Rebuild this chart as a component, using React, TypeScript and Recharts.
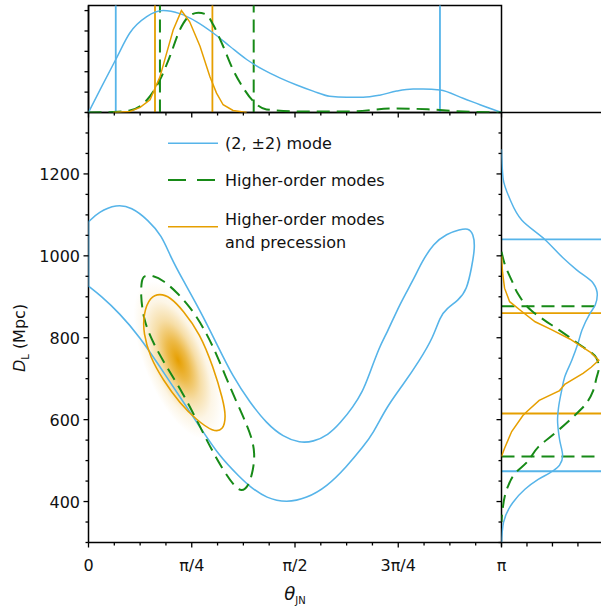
import React from 'react';
import {
  ComposedChart,
  Scatter,
  XAxis,
  YAxis,
  ReferenceLine,
  ReferenceArea,
  Legend,
} from 'recharts';

const BLUE = '#56B4E9';
const GREEN = '#178a17';
const ORANGE = '#E69F00';
const FONT = '"DejaVu Sans", Arial, sans-serif';
const DASH = '13 7';

// theta_JN is kept in units of pi
const xTicks = [0, 0.0625, 0.125, 0.1875, 0.25, 0.3125, 0.375, 0.4375, 0.5, 0.5625, 0.625, 0.6875, 0.75, 0.8125, 0.875, 0.9375, 1];
const xMajor = [0, 0.25, 0.5, 0.75, 1];
const xLabels = ['0', 'π/4', 'π/2', '3π/4', 'π'];

const dTicks = [300, 350, 400, 450, 500, 550, 600, 650, 700, 750, 800, 850, 900, 950, 1000, 1050, 1100, 1150, 1200, 1250, 1300, 1350];
const dMajor = [400, 600, 800, 1000, 1200];
const dLabels = ['400', '600', '800', '1000', '1200'];

const topTicks = [0, 0.2, 0.4, 0.6, 0.8, 1];
const sideTicks = [0, 0.25, 0.5, 0.75, 1];

// top marginal: [theta/pi, density]
const topBlue = [[0, 0], [0.03, 0.24], [0.066, 0.52], [0.1, 0.78], [0.141, 0.94], [0.181, 1.0], [0.221, 0.97], [0.262, 0.89], [0.302, 0.78], [0.342, 0.65], [0.383, 0.52], [0.423, 0.42], [0.463, 0.34], [0.504, 0.27], [0.544, 0.21], [0.584, 0.16], [0.625, 0.15], [0.665, 0.15], [0.705, 0.17], [0.746, 0.21], [0.786, 0.23], [0.81, 0.23], [0.851, 0.22], [0.907, 0.14], [0.948, 0.076], [1, 0]];
const topGreen = [[0, 0], [0.06, 0.005], [0.1, 0.02], [0.141, 0.12], [0.173, 0.32], [0.197, 0.55], [0.221, 0.81], [0.245, 0.95], [0.266, 0.98], [0.286, 0.96], [0.302, 0.86], [0.326, 0.65], [0.35, 0.42], [0.375, 0.24], [0.399, 0.11], [0.431, 0.03], [0.504, 0.01], [0.625, 0.01], [0.746, 0.04], [0.826, 0.03], [0.907, 0.01], [1, 0]];
const topOrange = [[0.06, 0], [0.1, 0.01], [0.125, 0.05], [0.149, 0.125], [0.173, 0.35], [0.189, 0.58], [0.205, 0.81], [0.225, 1.0], [0.245, 0.89], [0.27, 0.65], [0.294, 0.35], [0.31, 0.19], [0.326, 0.076], [0.35, 0.02], [0.383, 0]];
const topBlueCI = [0.066, 0.851];
const topGreenCI = [0.173, 0.4];
const topOrangeCI = [0.161, 0.3];

// right marginal: [D_L, density]
const rightBlue = [[1260, 0], [1190, 0.015], [1140, 0.08], [1087, 0.2], [1040, 0.425], [996, 0.6], [965, 0.74], [933, 0.9], [905, 0.94], [880, 0.92], [860, 0.87], [819, 0.79], [786, 0.75], [745, 0.69], [704, 0.62], [671, 0.59], [630, 0.56], [599, 0.55], [551, 0.57], [511, 0.6], [489, 0.57], [474, 0.5], [454, 0.36], [430, 0.23], [397, 0.11], [349, 0.02], [300, 0]];
const rightGreen = [[1010, 0], [981, 0.03], [940, 0.1], [908, 0.16], [867, 0.29], [843, 0.42], [823, 0.54], [786, 0.75], [751, 0.93], [727, 0.955], [700, 0.93], [671, 0.9], [639, 0.83], [606, 0.7], [566, 0.52], [533, 0.36], [496, 0.25], [468, 0.13], [435, 0.06], [380, 0.01], [350, 0]];
const rightOrange = [[1000, 0], [960, 0.01], [921, 0.03], [888, 0.08], [864, 0.2], [839, 0.33], [820, 0.49], [797, 0.67], [765, 0.87], [745, 0.955], [728, 0.88], [713, 0.8], [686, 0.62], [671, 0.57], [647, 0.37], [620, 0.25], [610, 0.21], [571, 0.1], [530, 0.03], [510, 0]];
const rightBlueCI = [1040, 474];
const rightGreenCI = [877, 510];
const rightOrangeCI = [860, 615];

// joint 90% contours: [theta/pi, D_L] (closed loops; corners on the theta=0 edge repeated to keep them sharp)
const blueContour = [[0, 1083], [0, 1083], [0, 1083], [0.024, 1107], [0.068, 1126], [0.104, 1119], [0.145, 1087], [0.177, 1050], [0.199, 997], [0.227, 944], [0.27, 867], [0.31, 786], [0.35, 704], [0.391, 642], [0.431, 591], [0.471, 558], [0.512, 543], [0.544, 546], [0.58, 562], [0.609, 591], [0.641, 631], [0.665, 672], [0.676, 700], [0.706, 782], [0.722, 810], [0.754, 883], [0.786, 940], [0.807, 985], [0.835, 1030], [0.867, 1054], [0.899, 1064], [0.919, 1068], [0.932, 1054], [0.936, 1021], [0.928, 973], [0.916, 916], [0.895, 891], [0.867, 871], [0.851, 851], [0.835, 802], [0.802, 745], [0.758, 680], [0.722, 631], [0.689, 566], [0.665, 534], [0.625, 485], [0.577, 436], [0.528, 408], [0.48, 397], [0.431, 408], [0.391, 436], [0.367, 459], [0.318, 509], [0.27, 582], [0.221, 656], [0.173, 729], [0.124, 802], [0.076, 859], [0.028, 904], [0, 926], [0, 926], [0, 926], [0, 1004]];
const greenContour = [[0.133, 952], [0.157, 952], [0.181, 940], [0.213, 912], [0.246, 875], [0.278, 826], [0.31, 761], [0.342, 680], [0.375, 607], [0.395, 558], [0.403, 518], [0.399, 477], [0.387, 436], [0.371, 424], [0.354, 436], [0.326, 477], [0.294, 534], [0.262, 599], [0.229, 664], [0.189, 729], [0.157, 786], [0.133, 843], [0.126, 908], [0.129, 940]];
const orangeContour = [[0.173, 908], [0.149, 900], [0.133, 859], [0.133, 810], [0.149, 753], [0.181, 696], [0.221, 640], [0.262, 599], [0.302, 570], [0.326, 574], [0.333, 607], [0.326, 648], [0.302, 729], [0.27, 810], [0.229, 867], [0.197, 900]];
const orangePeak = [[0.217, 745]];

const toTD = (pts: number[][]) => pts.map(([t, d]) => ({ t, d }));
const toTP = (pts: number[][]) => pts.map(([t, p]) => ({ t, p }));
const toDP = (pts: number[][]) => pts.map(([d, p]) => ({ d, p }));

// frame of the joint panel, in page pixels
const L = 88.5;
const R = 501.5;
const T = 112.5;
const B = 542.5;
const TOP = 5.5;
const SIDE_W = 620;
const SIDE_R = 608.5;

const NoDot = () => <g />;

const AxisTick = (props: any) => {
  const { x, y, payload, side, majors, labels, minor = 3, major = 5 } = props;
  const i = majors.findIndex((m: number) => Math.abs(m - payload.value) < 1e-9);
  const len = i >= 0 ? major : minor;
  if (side === 'bottom') {
    return (
      <g>
        <line x1={x} x2={x} y1={y} y2={y + len} stroke="#000" strokeWidth={1.3} />
        {labels && i >= 0 && (
          <text x={x} y={y + 28} textAnchor="middle" fontFamily={FONT} fontSize={16} fill="#111">
            {labels[i]}
          </text>
        )}
      </g>
    );
  }
  return (
    <g>
      <line x1={x - len} x2={x} y1={y} y2={y} stroke="#000" strokeWidth={1.3} />
      {labels && i >= 0 && (
        <text x={x - 8.5} y={y + 6} textAnchor="end" fontFamily={FONT} fontSize={16} fill="#111">
          {labels[i]}
        </text>
      )}
    </g>
  );
};

const Blob = (props: any) => {
  const { cx, cy } = props;
  return (
    <g>
      <defs>
        <radialGradient id="peakGlow" cx="50%" cy="50%" r="50%">
          <stop offset="0%" stopColor={ORANGE} stopOpacity={1} />
          <stop offset="25%" stopColor={ORANGE} stopOpacity={0.72} />
          <stop offset="50%" stopColor={ORANGE} stopOpacity={0.35} />
          <stop offset="75%" stopColor={ORANGE} stopOpacity={0.1} />
          <stop offset="100%" stopColor={ORANGE} stopOpacity={0} />
        </radialGradient>
      </defs>
      <ellipse cx={cx} cy={cy} rx={34} ry={84} fill="url(#peakGlow)" transform={`rotate(-22 ${cx} ${cy})`} />
    </g>
  );
};

const XTitle = () => (
  <text x={(L + R) / 2} y={599.5} textAnchor="middle" fontFamily={FONT} fill="#111">
    <tspan fontStyle="italic" fontSize={18}>θ</tspan>
    <tspan fontSize={10} dy={4}>JN</tspan>
  </text>
);

const YTitle = () => (
  <text transform="translate(25, 338) rotate(-90)" textAnchor="middle" fontFamily={FONT} fontSize={16} fill="#111">
    <tspan fontStyle="italic">D</tspan>
    <tspan fontSize={10} dy={4}>L</tspan>
    <tspan dy={-4}>{'\u00A0(Mpc)'}</tspan>
  </text>
);

const LegendBox = () => (
  <svg width={240} height={130} style={{ overflow: 'visible' }}>
    <g fontFamily={FONT} fontSize={16} fill="#111">
      <line x1={8} x2={58} y1={15.3} y2={15.3} stroke={BLUE} strokeWidth={1.5} />
      <text x={65} y={20.5}>(2, ±2) mode</text>
      <line x1={8} x2={58} y1={52} y2={52} stroke={GREEN} strokeWidth={2} strokeDasharray="18 11" />
      <text x={65} y={57.5}>Higher-order modes</text>
      <line x1={8} x2={58} y1={98.7} y2={98.7} stroke={ORANGE} strokeWidth={1.5} />
      <text x={65} y={97}>Higher-order modes</text>
      <text x={65} y={120.3}>and precession</text>
    </g>
  </svg>
);

const layer: React.CSSProperties = { position: 'absolute', left: 0, top: 0 };

export default function App() {
  return (
    <div style={{ position: 'absolute', left: 0, top: 0, width: 601, height: 608, overflow: 'hidden', background: '#fff' }}>
      {/* joint panel */}
      <div style={layer}>
        <ComposedChart width={601} height={608} margin={{ top: T, right: 601 - R, bottom: 0, left: 0 }}>
          <XAxis
            dataKey="t"
            type="number"
            domain={[0, 1]}
            allowDataOverflow
            ticks={xTicks}
            interval={0}
            tickSize={0}
            tickMargin={0}
            tickLine={false}
            axisLine={{ stroke: '#000', strokeWidth: 1.5 }}
            height={608 - B}
            tick={(p: any) => <AxisTick {...p} side="bottom" majors={xMajor} labels={xLabels} />}
            label={<XTitle />}
          />
          <YAxis
            dataKey="d"
            type="number"
            domain={[300, 1350]}
            allowDataOverflow
            ticks={dTicks}
            interval={0}
            tickSize={0}
            tickMargin={0}
            tickLine={false}
            axisLine={{ stroke: '#000', strokeWidth: 1.5 }}
            width={L}
            tick={(p: any) => <AxisTick {...p} side="left" majors={dMajor} labels={dLabels} />}
            label={<YTitle />}
          />
          <Scatter data={toTD(orangePeak)} shape={Blob} isAnimationActive={false} legendType="none" />
          <Scatter data={toTD(blueContour)} fill={BLUE} line={{ stroke: BLUE, strokeWidth: 1.6 }} lineType="joint" lineJointType="basisClosed" shape={NoDot} isAnimationActive={false} />
          <Scatter data={toTD(greenContour)} fill={GREEN} line={{ stroke: GREEN, strokeWidth: 2, strokeDasharray: DASH }} lineType="joint" lineJointType="basisClosed" shape={NoDot} isAnimationActive={false} />
          <Scatter data={toTD(orangeContour)} fill={ORANGE} line={{ stroke: ORANGE, strokeWidth: 1.6 }} lineType="joint" lineJointType="basisClosed" shape={NoDot} isAnimationActive={false} />
          <Legend
            layout="horizontal"
            verticalAlign="middle"
            align="center"
            width={240}
            height={130}
            wrapperStyle={{ left: 160, top: 128, width: 240, height: 130 }}
            content={() => <LegendBox />}
          />
        </ComposedChart>
      </div>

      {/* top marginal: theta_JN */}
      <div style={layer}>
        <ComposedChart width={601} height={130} margin={{ top: TOP, right: 601 - R, bottom: 0, left: 0 }}>
          <XAxis
            dataKey="t"
            type="number"
            domain={[0, 1]}
            allowDataOverflow
            ticks={xTicks}
            interval={0}
            tickSize={0}
            tickMargin={0}
            tickLine={false}
            axisLine={{ stroke: '#000', strokeWidth: 1.5 }}
            height={130 - T}
            tick={(p: any) => <AxisTick {...p} side="bottom" majors={xMajor} labels={null} />}
          />
          <YAxis
            dataKey="p"
            type="number"
            domain={[0, 1.05]}
            allowDataOverflow
            ticks={topTicks}
            interval={0}
            tickSize={0}
            tickMargin={0}
            tickLine={false}
            axisLine={{ stroke: '#000', strokeWidth: 1.5 }}
            width={L}
            tick={(p: any) => <AxisTick {...p} side="left" majors={[]} labels={null} minor={4} />}
          />
          <ReferenceArea x1={0} x2={1} y1={0} y2={1.05} fill="none" stroke="#000" strokeWidth={1.5} ifOverflow="visible" />
          <Scatter data={toTP(topBlue)} fill={BLUE} line={{ stroke: BLUE, strokeWidth: 1.5 }} lineType="joint" lineJointType="monotoneX" shape={NoDot} isAnimationActive={false} />
          <Scatter data={toTP(topGreen)} fill={GREEN} line={{ stroke: GREEN, strokeWidth: 2, strokeDasharray: DASH }} lineType="joint" lineJointType="monotoneX" shape={NoDot} isAnimationActive={false} />
          <Scatter data={toTP(topOrange)} fill={ORANGE} line={{ stroke: ORANGE, strokeWidth: 1.5 }} lineType="joint" shape={NoDot} isAnimationActive={false} />
          {topBlueCI.map((v) => (
            <ReferenceLine key={`tb${v}`} x={v} stroke={BLUE} strokeWidth={1.8} />
          ))}
          {topOrangeCI.map((v) => (
            <ReferenceLine key={`to${v}`} x={v} stroke={ORANGE} strokeWidth={1.8} />
          ))}
          {topGreenCI.map((v) => (
            <ReferenceLine key={`tg${v}`} x={v} stroke={GREEN} strokeWidth={2} strokeDasharray={DASH} />
          ))}
        </ComposedChart>
      </div>

      {/* right marginal: D_L */}
      <div style={layer}>
        <ComposedChart width={SIDE_W} height={608} margin={{ top: T, right: SIDE_W - SIDE_R, bottom: 0, left: 0 }}>
          <XAxis
            dataKey="p"
            type="number"
            domain={[0, 1.05]}
            allowDataOverflow
            ticks={sideTicks}
            interval={0}
            tickSize={0}
            tickMargin={0}
            tickLine={false}
            axisLine={{ stroke: '#000', strokeWidth: 1.5 }}
            height={608 - B}
            tick={(p: any) => <AxisTick {...p} side="bottom" majors={[]} labels={null} minor={4} />}
          />
          <YAxis
            dataKey="d"
            type="number"
            domain={[300, 1350]}
            allowDataOverflow
            ticks={dTicks}
            interval={0}
            tickSize={0}
            tickMargin={0}
            tickLine={false}
            axisLine={{ stroke: '#000', strokeWidth: 1.5 }}
            width={R}
            tick={(p: any) => <AxisTick {...p} side="left" majors={dMajor} labels={null} />}
          />
          <ReferenceLine y={1350} stroke="#000" strokeWidth={1.5} />
          <Scatter data={toDP(rightBlue)} fill={BLUE} line={{ stroke: BLUE, strokeWidth: 1.5 }} lineType="joint" lineJointType="monotoneY" shape={NoDot} isAnimationActive={false} />
          <Scatter data={toDP(rightGreen)} fill={GREEN} line={{ stroke: GREEN, strokeWidth: 2, strokeDasharray: DASH }} lineType="joint" lineJointType="monotoneY" shape={NoDot} isAnimationActive={false} />
          <Scatter data={toDP(rightOrange)} fill={ORANGE} line={{ stroke: ORANGE, strokeWidth: 1.5 }} lineType="joint" shape={NoDot} isAnimationActive={false} />
          {rightBlueCI.map((v) => (
            <ReferenceLine key={`rb${v}`} y={v} stroke={BLUE} strokeWidth={1.8} />
          ))}
          {rightOrangeCI.map((v) => (
            <ReferenceLine key={`ro${v}`} y={v} stroke={ORANGE} strokeWidth={1.8} />
          ))}
          {rightGreenCI.map((v) => (
            <ReferenceLine key={`rg${v}`} y={v} stroke={GREEN} strokeWidth={2} strokeDasharray={DASH} />
          ))}
        </ComposedChart>
      </div>
    </div>
  );
}
